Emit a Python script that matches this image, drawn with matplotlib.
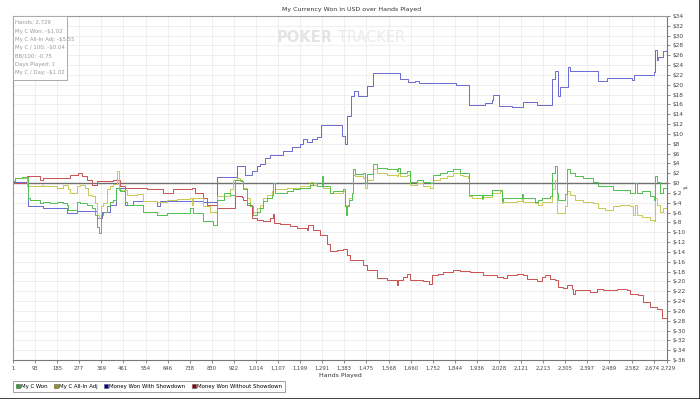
import matplotlib
matplotlib.use('Agg')
from matplotlib import pyplot as plt
from matplotlib.patches import Rectangle
from matplotlib.lines import Line2D
from matplotlib.transforms import ScaledTranslation

# hands / dollars (steps)
won_hands = [1, 10, 40, 65, 72, 114, 128, 155, 183, 211, 225, 232, 267, 280, 308, 329, 343, 353, 361, 367,
             378, 392, 406, 420, 431, 447, 468, 475, 545, 600, 642, 739, 753, 795, 837, 851, 880, 906, 927,
             955, 962, 976, 990, 1004, 1018, 1032, 1045, 1059, 1080, 1087, 1094, 1142, 1170, 1198, 1240,
             1254, 1268, 1289, 1296, 1323, 1337, 1379, 1386, 1390, 1396, 1404, 1414, 1421, 1428, 1462, 1469,
             1476, 1504, 1518, 1560, 1601, 1608, 1615, 1643, 1657, 1685, 1712, 1740, 1754, 1782, 1810, 1838,
             1865, 1904, 1956, 1963, 1998, 2039, 2046, 2123, 2130, 2178, 2192, 2206, 2241, 2248, 2262, 2269,
             2275, 2303, 2313, 2324, 2345, 2380, 2421, 2442, 2505, 2575, 2595, 2602, 2623, 2658, 2675, 2679,
             2689, 2700, 2714, 2729]
won_vals = [0.5, 1.0, 1.3, -3.0, -3.4, -4.1, -3.75, -4.1, -3.75, -4.1, -4.4, -5.4, -3.95, -4.1, -4.4, -5.1,
            -6.5, -8.85, -10.2, -6.5, -5.8, -4.75, -3.75, -3.4, -1.0, -1.6, -3.75, -4.4, -5.8, -6.5, -6.1,
            -5.1, -6.1, -7.8, -8.5, -3.4, -2.0, -2.4, 0.7, 0.4, -1.3, -4.1, -4.75, -6.5, -5.8, -5.1, -3.7,
            -3.0, -2.4, 0.0, -2.0, -1.7, -1.3, -1.0, -0.3, 0.0, -0.65, 1.5, -0.65, -2.0, -1.7, -1.3, -4.75,
            -6.5, -4.75, -3.4, -2.0, 2.8, 1.8, 2.0, 0.0, 1.8, 3.8, 3.1, 2.8, 2.5, 3.1, 2.1, 2.5, 0.3, 0.7,
            0.15, 0.0, 1.74, 2.1, 2.5, 2.8, 2.1, -2.36, -3.0, -2.5, -1.33, -3.7, -3.0, -2.2, -3.1, -3.9,
            -3.4, -3.1, -2.7, 2.1, 3.4, -2.0, -3.5, -2.3, 2.8, 2.1, 1.5, 1.1, 0.3, -0.65, -1.33, -2.0, 0.0,
            -2.0, -1.7, -2.7, -3.4, 1.4, 0.3, -2.0, -1.0, -1.3]

adj_hands = [1, 10, 58, 72, 121, 128, 183, 211, 232, 239, 267, 280, 301, 315, 329, 343, 353, 361, 367, 378,
             392, 406, 420, 436, 444, 475, 517, 545, 600, 642, 684, 739, 746, 753, 795, 823, 851, 906, 920,
             934, 948, 962, 976, 990, 1004, 1018, 1032, 1045, 1059, 1080, 1087, 1094, 1142, 1198, 1240, 1254,
             1268, 1296, 1323, 1379, 1386, 1390, 1396, 1404, 1414, 1421, 1428, 1462, 1469, 1476, 1504, 1518,
             1560, 1601, 1608, 1615, 1643, 1657, 1685, 1712, 1740, 1754, 1782, 1810, 1838, 1865, 1880, 1900,
             1904, 1914, 1956, 1963, 1998, 2032, 2039, 2046, 2102, 2123, 2130, 2178, 2192, 2206, 2241, 2248,
             2262, 2269, 2303, 2313, 2324, 2345, 2380, 2421, 2442, 2470, 2505, 2533, 2575, 2589, 2595, 2602,
             2623, 2658, 2675, 2679, 2689, 2700, 2714, 2729]
adj_vals = [0.5, 1.0, -0.5, -0.65, -0.4, -0.65, -0.9, -0.4, -1.3, -2.0, -0.65, -0.4, -0.9, -2.4, -2.7, -4.1,
            -6.5, -7.1, -4.75, -4.1, -1.3, -0.65, -0.2, 2.4, -1.33, -2.4, -2.2, -3.7, -3.9, -3.4, -3.2, -3.0,
            -4.4, -3.0, -4.75, -5.8, -2.7, -1.3, 0.7, 1.07, 0.4, -1.0, -3.0, -4.75, -5.8, -5.1, -4.4, -3.0,
            -2.4, -1.7, 0.0, -1.3, -1.0, -0.65, 0.3, -0.3, -0.65, -1.0, -2.0, -1.7, -4.4, -5.8, -4.4, -3.0,
            -2.0, 1.74, 1.4, 1.07, -1.0, 0.7, 2.8, 2.1, 1.74, 1.4, 2.1, 1.4, 1.74, -0.3, 0.0, -0.5, -1.0, 0.7,
            1.07, 1.4, 2.1, 1.74, 1.4, 1.07, -2.7, -3.0, -3.2, -2.8, -2.0, -1.7, -4.1, -3.75, -3.6, -3.0,
            -3.75, -4.1, -4.4, -3.9, -3.75, -1.3, 0.7, -6.1, -4.75, -1.7, -2.4, -3.4, -3.75, -4.1, -5.1, -5.4,
            -4.75, -4.4, -4.75, -6.5, -4.4, -6.5, -6.8, -7.5, -7.8, -3.0, -4.4, -5.8, -5.1, -5.5]

sd_hands = [1, 65, 127, 225, 267, 350, 371, 406, 431, 468, 503, 600, 614, 795, 851, 934, 969, 998, 1019,
            1031, 1052, 1073, 1127, 1165, 1198, 1211, 1227, 1248, 1269, 1286, 1373, 1386, 1394, 1411, 1423,
            1440, 1478, 1503, 1615, 1649, 1678, 1694, 1849, 1903, 1970, 1999, 2003, 2028, 2082, 2128, 2187,
            2249, 2262, 2274, 2283, 2316, 2324, 2441, 2479, 2583, 2591, 2675, 2679, 2687, 2691, 2712, 2729]
sd_vals = [0.2, -4.75, -5.1, -6.1, -5.6, -7.1, -5.8, -4.4, -1.0, -4.4, -3.7, -4.75, -3.7, -3.9, 1.3, 3.4,
           1.6, 2.5, 3.4, 3.8, 5.2, 5.8, 6.5, 7.3, 7.9, 8.9, 8.4, 8.9, 9.3, 11.8, 9.5, 7.9, 13.7, 17.8, 18.8,
           17.8, 19.8, 22.4, 21.1, 20.5, 20.8, 20.4, 20.0, 15.9, 16.3, 16.9, 17.9, 15.7, 15.5, 16.4, 15.8,
           21.2, 22.9, 17.8, 19.6, 23.7, 22.9, 20.7, 21.3, 21.0, 22.0, 22.7, 27.0, 25.0, 25.6, 26.8, 26.8]

nosd_hands = [1, 58, 114, 127, 239, 273, 288, 308, 329, 350, 419, 447, 468, 559, 628, 670, 746, 760, 795,
              809, 851, 927, 955, 962, 976, 997, 1018, 1045, 1073, 1087, 1091, 1115, 1156, 1184, 1226, 1233,
              1254, 1282, 1310, 1323, 1351, 1379, 1393, 1407, 1462, 1476, 1518, 1560, 1601, 1608, 1629, 1643,
              1657, 1685, 1712, 1737, 1747, 1775, 1796, 1838, 1865, 1907, 1963, 2018, 2046, 2060, 2102, 2130,
              2144, 2185, 2206, 2220, 2241, 2262, 2276, 2296, 2310, 2331, 2338, 2345, 2408, 2436, 2463, 2491,
              2519, 2561, 2575, 2609, 2630, 2658, 2686, 2707, 2729]
nosd_vals = [0.0, 1.4, 0.7, 1.1, 1.7, 2.1, 1.4, 0.7, -0.3, 0.4, 0.7, -0.65, -1.0, -1.3, -2.0, -1.3, -1.0,
             -2.0, -3.0, -4.4, -5.1, -2.7, -2.9, -3.4, -4.5, -7.1, -7.6, -7.8, -7.1, -6.3, -8.2, -8.3, -8.7,
             -9.2, -9.5, -8.6, -9.5, -10.6, -12.3, -13.8, -13.6, -13.4, -14.7, -15.7, -16.7, -17.7, -19.4,
             -19.7, -20.8, -19.8, -19.1, -18.4, -19.8, -19.7, -20.0, -20.6, -18.8, -18.4, -18.1, -17.6, -17.9,
             -18.1, -18.8, -19.1, -19.4, -18.7, -18.4, -18.7, -19.6, -19.9, -19.1, -18.8, -19.5, -19.8, -21.1,
             -21.3, -20.8, -21.5, -22.5, -21.7, -22.2, -21.5, -21.8, -21.7, -21.5, -21.8, -22.5, -22.8, -24.2,
             -25.2, -25.6, -27.5, -27.8]

xtick_labels = ["1", "93", "185", "277", "369", "461", "554", "646", "738", "830", "922", "1,014", "1,107",
                "1,199", "1,291", "1,383", "1,475", "1,568", "1,660", "1,752", "1,844", "1,936", "2,028",
                "2,121", "2,213", "2,305", "2,397", "2,489", "2,582", "2,674", "2,729"]
stats_lines = ["Hands: 2,729", "My C Won: -$1.02", "My C All-In Adj: -$5.55", "My C / 100: -$0.04",
               "BB/100: -0.75", "Days Played: 1", "My C / Day: -$1.02"]
legend_names = ["My C Won", "My C All-In Adj", "Money Won With Showdown", "Money Won Without Showdown"]

fig = plt.figure(figsize=(7, 3.99), dpi=100)
ax = fig.add_axes([13 / 700, 1 - 360 / 399, 654 / 700, 344 / 399])

grid_c = '#ececec'
xticks = [int(s.replace(',', '')) for s in xtick_labels]
for t in xticks:
    ax.axvline(t, color=grid_c, lw=0.6, zorder=0)
for v in range(-36, 35, 2):
    ax.axhline(v, color=grid_c, lw=0.6, zorder=0)
ax.axhline(0, color='#707070', lw=1.0, zorder=1)

ax.plot(nosd_hands, nosd_vals, drawstyle='steps-post', color='#cc5050', lw=0.7, zorder=2)
ax.plot(sd_hands, sd_vals, drawstyle='steps-post', color='#6a6ad0', lw=0.7, zorder=3)
ax.plot(adj_hands, adj_vals, drawstyle='steps-post', color='#c8c850', lw=0.7, zorder=4)
ax.plot(won_hands, won_vals, drawstyle='steps-post', color='#50c050', lw=0.7, zorder=5)

ax.set_xlim(1, 2729)
ax.set_ylim(-36, 34)
ax.set_xticks(xticks)
ax.set_xticklabels(xtick_labels, fontsize=3.8, color='#444444')
ax.yaxis.tick_right()
ax.set_yticks(range(-36, 35, 2))
ax.set_yticklabels(['$' + str(v) for v in range(-36, 35, 2)], fontsize=4.2, color='#444444')
ax.tick_params(axis='both', length=2.5, width=0.6, color='#777777', pad=1.5)
# last two labels sit flush against each other, nudge them apart a touch
tl = ax.get_xticklabels()
tl[-2].set_transform(tl[-2].get_transform() + ScaledTranslation(-1.5 / 100, 0, fig.dpi_scale_trans))
tl[-1].set_transform(tl[-1].get_transform() + ScaledTranslation(1.5 / 100, 0, fig.dpi_scale_trans))
for s in ax.spines.values():
    s.set_color('#999999')
    s.set_linewidth(0.8)
ax.spines['right'].set_color('#777777')
ax.spines['bottom'].set_color('#777777')
ax.set_xlabel('Hands Played', fontsize=4.5, color='#333333', labelpad=2)
ax.set_facecolor('white')

fig.text(352 / 700, 1 - 9 / 399, 'My Currency Won in USD over Hands Played', fontsize=4.5,
         color='#333333', ha='center', va='center')

# watermark
fig.text(277 / 700, 1 - 38 / 399, 'POKER', fontsize=10.5, fontweight='bold', color='#e4e4e4',
         ha='left', va='center', zorder=0)
fig.text(338 / 700, 1 - 38 / 399, 'TRACKER', fontsize=10.5, color='#ebebeb', ha='left', va='center',
         zorder=0)

# stats box
fig.add_artist(Rectangle((13 / 700, 1 - 80 / 399), 54 / 700, 64 / 399, transform=fig.transFigure,
                         facecolor='white', edgecolor='#aaaaaa', lw=0.7, zorder=10))
for i, line in enumerate(stats_lines):
    fig.text(15.5 / 700, 1 - (22.7 + i * 8.33) / 399, line, fontsize=3.9, color='#999999',
             ha='left', va='center', zorder=11)

# legend
leg_cols = ['#22aa22', '#999900', '#000099', '#990000']
handles = [Line2D([], [], marker='s', ls='none', markersize=3, markerfacecolor=c,
                  markeredgecolor='#555555', markeredgewidth=0.4) for c in leg_cols]
leg = fig.legend(handles, legend_names, loc='lower left', bbox_to_anchor=(13 / 700, 1 - 392 / 399),
                 ncol=4, fontsize=3.9, frameon=True, fancybox=False, handletextpad=0.2,
                 columnspacing=1.1, borderpad=0.55, handlelength=0.8, borderaxespad=0)
leg.get_frame().set_edgecolor('#888888')
leg.get_frame().set_linewidth(0.7)

fig.text(685 / 700, 1 - 188 / 399, '\u21cc', fontsize=4, color='#666666', ha='center', va='center')

# dark frame at bottom / right
fig.add_artist(Line2D([0, 1], [0.5 / 399, 0.5 / 399], transform=fig.transFigure, color='#222222', lw=1.2))
fig.add_artist(Line2D([699.5 / 700, 699.5 / 700], [0, 1], transform=fig.transFigure, color='#222222',
                      lw=1.2))

fig.savefig('out.png', dpi=100)
